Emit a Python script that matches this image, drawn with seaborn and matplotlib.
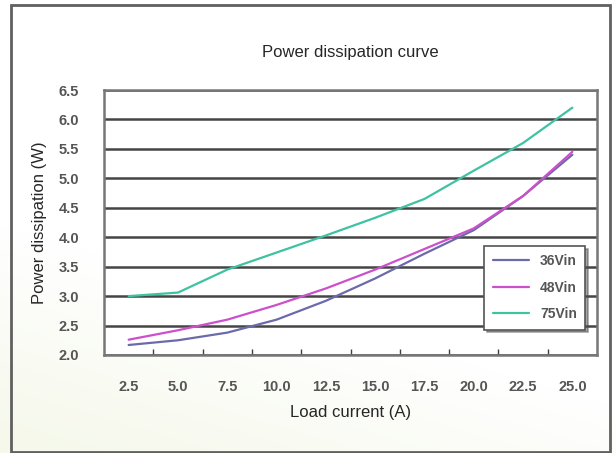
import numpy as np
import pandas as pd
import matplotlib
matplotlib.use("Agg")
import matplotlib.pyplot as plt
from matplotlib.patches import Rectangle
import seaborn as sns

# load current (A)
load_current = [2.5, 5.0, 7.5, 10.0, 12.5, 15.0, 17.5, 20.0, 22.5, 25.0]
# power dissipation (W)
p_36vin = [2.17, 2.25, 2.38, 2.60, 2.92, 3.30, 3.72, 4.12, 4.70, 5.40]
p_48vin = [2.26, 2.42, 2.60, 2.85, 3.13, 3.45, 3.80, 4.15, 4.70, 5.45]
p_75vin = [3.00, 3.06, 3.45, 3.74, 4.03, 4.33, 4.65, 5.13, 5.60, 6.20]
series_names = ["36Vin", "48Vin", "75Vin"]
colors = ["#6b6aaa", "#cc4fcc", "#3fc2a2"]

x_ticks = [2.5, 5.0, 7.5, 10.0, 12.5, 15.0, 17.5, 20.0, 22.5, 25.0]
y_ticks = [2.0, 2.5, 3.0, 3.5, 4.0, 4.5, 5.0, 5.5, 6.0, 6.5]

df = pd.DataFrame({
    "Load current": load_current * 3,
    "Power": p_36vin + p_48vin + p_75vin,
    "Series": sum([[n] * len(load_current) for n in series_names], []),
})

sns.set_theme(style="white")
plt.rcParams["font.family"] = ["Liberation Sans", "DejaVu Sans"]

fig = plt.figure(figsize=(6.16, 4.53), dpi=100)

# very faint greenish wash in the lower-left corner
bg = fig.add_axes([0, 0, 1, 1], zorder=-10)
yy, xx = np.mgrid[0:1:200j, 0:1:200j]
wash = np.clip(1.0 - 2.0 * yy - 0.8 * xx, 0, 1)
bg.imshow(wash, extent=[0, 1, 0, 1], origin="lower", cmap=matplotlib.colors.LinearSegmentedColormap.from_list(
    "w", ["#ffffff", "#f5f8ea"]), aspect="auto")
bg.axis("off")

# outer frame
fig.patches.append(Rectangle((11 / 616, 1 / 453), 599 / 616, 447 / 453, transform=fig.transFigure,
                             fill=False, edgecolor="#606060", linewidth=2.0))

ax = fig.add_axes([104 / 616, 1 - 355 / 453, 493 / 616, 265 / 453])
ax.set_facecolor("white")

sns.lineplot(data=df, x="Load current", y="Power", hue="Series",
             palette=dict(zip(series_names, colors)), linewidth=1.6, ax=ax)

ax.set_xlim(1.25, 26.25)
ax.set_ylim(2.0, 6.5)
ax.set_xticks(x_ticks)
ax.set_xticklabels([f"{v:.1f}" for v in x_ticks])
ax.set_xticks(np.arange(3.75, 26.25, 2.5), minor=True)
ax.set_yticks(y_ticks)
ax.set_yticklabels([f"{v:.1f}" for v in y_ticks])
ax.tick_params(axis="x", which="major", length=0, pad=18, labelsize=10.5, labelcolor="#555555")
ax.tick_params(axis="x", which="minor", length=4, width=1, color="#404040", direction="in", bottom=True)
ax.tick_params(axis="y", length=0, pad=18, labelsize=10.5, labelcolor="#555555")
for lbl in ax.get_xticklabels() + ax.get_yticklabels():
    lbl.set_fontweight("bold")

ax.yaxis.grid(True, color="#454545", linewidth=1.8)
ax.xaxis.grid(False)
ax.set_axisbelow(True)
for s in ax.spines.values():
    s.set_color("#777777")
    s.set_linewidth(1.8)

ax.set_title("Power dissipation curve", fontsize=12, pad=24)
ax.set_xlabel("Load current (A)", fontsize=12, labelpad=8)
ax.set_ylabel("Power dissipation (W)", fontsize=12, labelpad=8)

leg = ax.legend(title=None, loc="lower right", bbox_to_anchor=(0.99, 0.07), frameon=True,
                fancybox=False, shadow=True, fontsize=10, handlelength=2.6,
                labelspacing=0.9, borderpad=0.6)
leg.get_frame().set_edgecolor("#555555")
leg.get_frame().set_linewidth(1.2)
leg.get_frame().set_facecolor("white")
leg.get_frame().set_alpha(1)
for t in leg.get_texts():
    t.set_fontweight("bold")
    t.set_color("#555555")

fig.savefig("out.png", dpi=100)
